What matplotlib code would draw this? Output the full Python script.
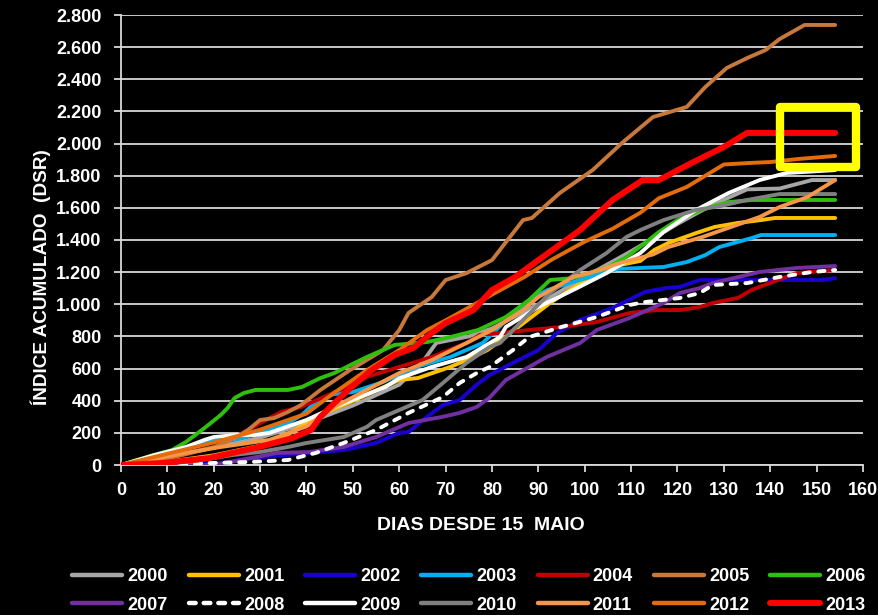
import matplotlib
matplotlib.use("Agg")
import matplotlib.pyplot as plt
from matplotlib.patches import Rectangle
from matplotlib.lines import Line2D
from matplotlib.ticker import FuncFormatter, MultipleLocator

plt.rcParams['font.family'] = ['Liberation Sans', 'DejaVu Sans']

# ---- data (days since 15 May, cumulative index DSR) ----
d2000 = [0, 10, 20, 30, 40, 50, 60, 65, 68, 75, 80, 90, 100, 110, 120, 125, 130, 135, 142, 149, 154]
v2000 = [0, 50, 110, 170, 260, 370, 500, 640, 760, 800, 850, 1000, 1170, 1330, 1500, 1580, 1650, 1715, 1720, 1773, 1773]

d2001 = [0, 10, 20, 30, 35, 38.6, 42, 49, 60, 64, 71, 74.5, 79, 82, 92.5, 100, 107.5, 112, 115, 118, 124, 128, 133, 138, 141, 154]
v2001 = [0, 20, 60, 120, 170, 237, 300, 385, 529, 541, 610, 653, 715, 778, 1008, 1150, 1244, 1270, 1338, 1381, 1443, 1481, 1506, 1524, 1537, 1537]

d2002 = [0, 15, 21.5, 28, 40.7, 48, 55, 60, 62, 66, 69.4, 73, 76.5, 79.5, 84.5, 90, 94, 99, 106, 113, 117.6, 120.5, 124.8, 135, 151, 154]
v2002 = [0, 0, 12, 43, 75, 93, 137, 200, 205, 300, 373, 404, 495, 560, 635, 715, 821, 902, 977, 1077, 1101, 1108, 1151, 1151, 1151, 1163]

d2003 = [0, 10, 15, 20, 25, 30, 36, 39, 42, 45.7, 50, 56.5, 63.7, 71, 78, 83, 89, 92, 97.5, 107, 117, 122, 126, 129, 133, 136, 138, 154]
v2003 = [0, 60, 120, 150, 160, 200, 261, 311, 392, 440, 454, 516, 610, 672, 759, 900, 1045, 1089, 1139, 1220, 1232, 1263, 1306, 1356, 1388, 1412, 1431, 1431]

d2004 = [0, 10, 20, 25, 30, 34.5, 38.8, 45.7, 53, 60, 67, 74.5, 77.4, 81.7, 88, 95, 102.6, 109.7, 115.5, 120.5, 124.8, 127.6, 133, 136, 140.5, 145.7, 154]
v2004 = [0, 40, 110, 180, 260, 330, 361, 448, 548, 610, 672, 759, 810, 821, 840, 859, 890, 946, 964, 964, 983, 1008, 1039, 1089, 1139, 1194, 1213]

d2005 = [0, 10, 20, 25, 27.4, 30, 33, 36, 38.8, 43, 49.4, 56.5, 60, 62, 67, 70, 74.5, 80, 86.7, 88.6, 94.6, 101.7, 108, 114.7, 122, 126, 130.6, 135, 139, 142, 147.4, 154]
v2005 = [0, 40, 110, 174, 218, 280, 292, 330, 373, 467, 591, 715, 840, 946, 1045, 1151, 1194, 1275, 1524, 1537, 1692, 1835, 2003, 2165, 2228, 2352, 2470, 2532, 2582, 2650, 2738, 2738]

d2006 = [0, 7, 11, 14, 18, 21.5, 23, 24.5, 26.5, 29, 36, 39, 43, 46, 53, 59, 66, 71, 77, 83, 88, 92.5, 97.5, 105, 109, 113, 116, 120, 125, 131, 136, 154]
v2006 = [0, 62, 93, 143, 230, 311, 355, 417, 448, 467, 467, 485, 541, 572, 672, 747, 765, 796, 840, 921, 1027, 1151, 1163, 1232, 1294, 1381, 1450, 1524, 1587, 1636, 1649, 1649]

d2007 = [0, 20, 26, 33.6, 40.7, 48, 55, 62, 69.4, 73, 76.7, 79.5, 83, 88, 91.8, 99, 102.6, 109.7, 117, 120.5, 124.8, 127.6, 137.7, 145.7, 154]
v2007 = [0, 0, 31, 75, 81, 112, 174, 261, 300, 324, 361, 420, 529, 610, 672, 759, 840, 915, 1008, 1070, 1101, 1132, 1201, 1226, 1238]

d2008 = [0, 10, 19, 28, 36, 42, 48, 55, 62, 69.4, 73, 76.7, 79.5, 84.5, 88, 95, 102.6, 109.7, 113, 120.5, 124.8, 127.6, 135, 142, 149, 154]
v2008 = [0, 0, 12, 19, 31, 75, 137, 218, 324, 423, 510, 572, 610, 715, 796, 859, 921, 996, 1014, 1039, 1070, 1120, 1132, 1170, 1201, 1213]

d2009 = [0, 7, 14, 18, 20, 25, 29, 32, 36, 40, 46, 53, 57, 60, 67, 74.5, 81.7, 83, 90, 97.5, 104.7, 112, 117, 124, 131, 137.7, 143.5, 154]
v2009 = [0, 60, 112, 156, 174, 187, 187, 200, 240, 280, 360, 440, 485, 540, 610, 672, 796, 859, 983, 1089, 1194, 1319, 1450, 1587, 1692, 1773, 1817, 1835]

d2010 = [0, 15, 24, 30, 36, 40, 48, 53, 55, 60, 65, 69.4, 74.5, 79.5, 81.7, 86.7, 92.5, 99, 104.7, 109, 112, 117, 124, 129, 135, 142, 154]
v2010 = [0, 20, 62, 81, 112, 137, 174, 237, 280, 342, 404, 510, 635, 734, 759, 902, 1070, 1213, 1319, 1419, 1462, 1524, 1587, 1610, 1649, 1686, 1686]

d2011 = [0, 14, 21.5, 32, 40, 46, 53, 60, 67, 74.5, 80, 86.7, 90, 97.5, 101, 108, 114.7, 118, 125.4, 132.7, 137.7, 142, 148, 154]
v2011 = [0, 75, 112, 156, 240, 361, 467, 572, 653, 759, 840, 964, 1045, 1170, 1194, 1260, 1310, 1356, 1419, 1493, 1543, 1605, 1667, 1773]

d2012 = [0, 10, 20, 30, 40, 46, 53, 60, 66, 70, 75, 80, 87, 93, 100, 106, 112, 116, 122, 130, 136, 140, 146, 154]
v2012 = [0, 70, 140, 220, 320, 450, 590, 715, 840, 900, 980, 1060, 1170, 1280, 1390, 1470, 1570, 1660, 1730, 1870, 1880, 1885, 1904, 1923]

d2013 = [0, 9, 19, 24, 29, 33, 37, 41, 43, 46, 49, 54, 59, 63, 67, 70, 76, 80, 85, 90, 99, 106, 112.5, 116, 123, 130, 135, 154]
v2013 = [0, 12, 43, 75, 106, 137, 168, 218, 300, 385, 467, 590, 684, 728, 821, 883, 964, 1089, 1170, 1275, 1462, 1649, 1773, 1773, 1879, 1979, 2066, 2066]

years = ['2000', '2001', '2002', '2003', '2004', '2005', '2006',
         '2007', '2008', '2009', '2010', '2011', '2012', '2013']

series = {
    '2000': (d2000, v2000), '2001': (d2001, v2001), '2002': (d2002, v2002),
    '2003': (d2003, v2003), '2004': (d2004, v2004), '2005': (d2005, v2005),
    '2006': (d2006, v2006), '2007': (d2007, v2007), '2008': (d2008, v2008),
    '2009': (d2009, v2009), '2010': (d2010, v2010), '2011': (d2011, v2011),
    '2012': (d2012, v2012), '2013': (d2013, v2013),
}

colors = {
    '2000': '#A6A6A6', '2001': '#FFC000', '2002': '#1A00D0', '2003': '#00B0F0',
    '2004': '#C00000', '2005': '#C8783A', '2006': '#2EC00C', '2007': '#7030A0',
    '2008': '#FFFFFF', '2009': '#FFFFFF', '2010': '#808080', '2011': '#F79646',
    '2012': '#E46C0A', '2013': '#FF0000',
}

fig = plt.figure(figsize=(8.79, 6.15), dpi=100, facecolor='black')
ax = fig.add_axes([121/879, 1-465/615, (863-121)/879, (465-15)/615])
ax.set_facecolor('black')

ax.set_xlim(0, 160)
ax.set_ylim(0, 2800)
ax.xaxis.set_major_locator(MultipleLocator(10))
ax.yaxis.set_major_locator(MultipleLocator(200))
ax.yaxis.set_major_formatter(FuncFormatter(lambda v, p: f"{v:,.0f}".replace(",", ".")))

ax.grid(axis='y', color='#D9D9D9', linewidth=1.3, zorder=0)
ax.set_axisbelow(True)
for s in ['top', 'right']:
    ax.spines[s].set_visible(False)
for s in ['left', 'bottom']:
    ax.spines[s].set_color('#D9D9D9')
    ax.spines[s].set_linewidth(1.3)

ax.tick_params(axis='both', colors='#D9D9D9', direction='out', length=5, width=1.3,
               labelcolor='white', labelsize=13)
ax.tick_params(axis='y', pad=9)
ax.tick_params(axis='x', pad=7)
for lab in ax.get_xticklabels() + ax.get_yticklabels():
    lab.set_fontweight('bold')

line_h = {}
for y in years:
    d, v = series[y]
    lw = 4.3 if y == '2013' else 2.8
    ls = (0, (1.6, 2.2)) if y == '2008' else '-'
    ax.plot(d, v, color=colors[y], lw=lw, ls=ls, solid_capstyle='round',
            dash_capstyle='round', zorder=3 if y != '2013' else 4)
    line_h[y] = Line2D([0], [0], color=colors[y], lw=4.3 if y == '2013' else 3.2,
                       ls=(0, (1.5, 1.8)) if y == '2008' else '-',
                       solid_capstyle='round', dash_capstyle='round')

rect = Rectangle((142.2, 1854), 16.2, 374, fill=False, edgecolor='#FFFF00',
                 linewidth=6, joinstyle='round', zorder=5, clip_on=False)
ax.add_patch(rect)

ax.set_xlabel('DIAS DESDE 15  MAIO', color='white', fontsize=14, fontweight='bold', va='center')
ax.xaxis.set_label_coords((481-121)/742, -(525-465)/450)
ax.set_ylabel('ÍNDICE ACUMULADO  (DSR)', color='white', fontsize=13.7, fontweight='bold', va='center')
ax.yaxis.set_label_coords((41-121)/742, (465-277)/450)

# legend filled row by row (matplotlib fills column-wise)
order = []
for c in range(7):
    order += [years[c], years[c + 7]]
leg = fig.legend([line_h[y] for y in order], order, loc='lower center',
                 bbox_to_anchor=(469/879, -0.024), ncol=7,
                 frameon=False, handlelength=2.77, handletextpad=0.28, columnspacing=1.16,
                 labelspacing=0.61, prop={'weight': 'bold', 'size': 13})
for t in leg.get_texts():
    t.set_color('white')

fig.savefig('out.png', dpi=100, facecolor='black')
